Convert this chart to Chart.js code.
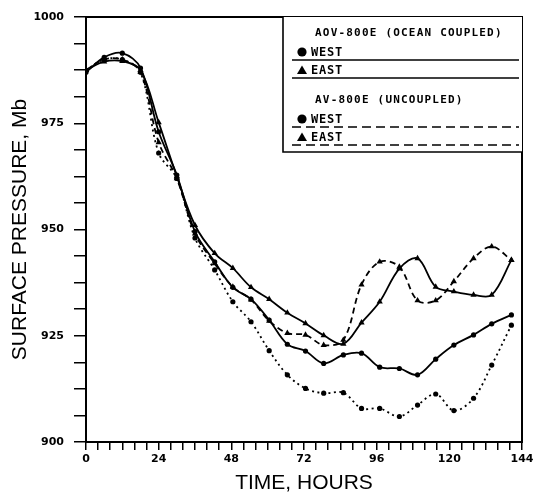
<!DOCTYPE html>
<html>
<head>
<meta charset="utf-8">
<script src="https://cdn.jsdelivr.net/npm/chart.js@4"></script>
<style>
  html, body { margin: 0; padding: 0; background: #fff; }
  #wrap { width: 537px; height: 496px; }
</style>
</head>
<body>
<div id="wrap"><canvas id="pressureChart" width="537" height="496"></canvas></div>
<script>
// time of each stored value, hours
var hours = [0, 6, 12, 18, 24, 30, 36, 42.5, 48.5, 54.5, 60.5, 66.5, 72.5, 78.5,
             85, 91, 97, 103.5, 109.5, 115.5, 121.5, 128, 134, 140.5];

// surface pressure, Mb
var coupledWest = [987, 990.5, 991.5, 988, 973, 962.8, 949.5, 942.4, 936.4, 933.6, 928.7, 923,
                   921.4, 918.5, 920.5, 920.9, 917.6, 917.3, 915.8, 919.5, 922.8, 925.2, 927.8, 929.9];
var coupledEast = [987.5, 989.5, 989.6, 987.5, 975.2, 962.5, 951, 944.4, 940.9, 936.4, 933.6, 930.4,
                   927.9, 925.1, 923.1, 928.1, 933, 940.8, 943.2, 936.5, 935.4, 934.6, 934.6, 942.8];
var uncoupledWest = [987.5, 990, 990, 987, 968, 962, 948, 940.5, 933, 928.3, 921.5, 915.8,
                     912.6, 911.5, 911.6, 907.9, 907.9, 906, 908.7, 911.3, 907.4, 910.3, 918.1, 927.5];
var uncoupledEast = [987.5, 990, 990, 987, 970.5, 962, 949, 942, 936.5, 933.5, 928.5, 925.6,
                     925.2, 922.8, 924, 937, 942.4, 941.2, 933.3, 933.3, 937.8, 943.2, 946, 942.8];

var xLabelStep = 24;
var yLabelStep = 25;

var legendTitles = ['AOV-800E (OCEAN COUPLED)', 'AV-800E (UNCOUPLED)'];
var legendNames = ['WEST', 'EAST'];

function toPoints(values) {
  return values.map(function (v, i) { return { x: hours[i], y: v }; });
}

function series(values, style, dash) {
  return {
    data: toPoints(values),
    borderColor: '#000',
    backgroundColor: '#000',
    borderWidth: 1.8,
    borderDash: dash,
    pointStyle: style,
    pointRadius: style === 'triangle' ? 3.6 : 2.6,
    pointBorderWidth: 0,
    tension: 0.35,
    fill: false
  };
}

// frame round the plot and the boxed key in the top right corner
var framePlugin = {
  id: 'frame',
  afterDraw: function (chart) {
    var ctx = chart.ctx;
    var a = chart.chartArea;
    ctx.save();
    ctx.strokeStyle = '#000';
    ctx.lineWidth = 2;
    ctx.strokeRect(a.left, a.top, a.right - a.left, a.bottom - a.top);

    var left = a.right - 239, top = a.top, bottom = a.top + 135;
    ctx.fillStyle = '#fff';
    ctx.fillRect(left, top, a.right - left, bottom - top);
    ctx.lineWidth = 1.6;
    ctx.beginPath();
    ctx.moveTo(left, top);
    ctx.lineTo(left, bottom);
    ctx.lineTo(a.right, bottom);
    ctx.stroke();

    ctx.fillStyle = '#000';
    ctx.textBaseline = 'middle';
    ctx.textAlign = 'left';
    var lineL = left + 9, lineR = a.right - 3;
    var groups = [
      { title: legendTitles[0], y: top + 16, dash: [] },
      { title: legendTitles[1], y: top + 83, dash: [9, 5] }
    ];
    groups.forEach(function (g) {
      ctx.font = 'bold 11px "DejaVu Sans Mono"';
      ctx.letterSpacing = '1.2px';
      ctx.fillText(g.title, left + 32, g.y);
      legendNames.forEach(function (name, k) {
        var y = g.y + 19 + k * 18;
        var mx = left + 19;
        ctx.beginPath();
        if (k === 0) {
          ctx.arc(mx, y, 4.6, 0, Math.PI * 2);
        } else {
          ctx.moveTo(mx, y - 4.5);
          ctx.lineTo(mx + 5, y + 4);
          ctx.lineTo(mx - 5, y + 4);
          ctx.closePath();
        }
        ctx.fill();
        ctx.font = 'bold 12px "DejaVu Sans Mono"';
        ctx.letterSpacing = '0.8px';
        ctx.fillText(name, left + 28, y + 0.5);
        ctx.setLineDash(g.dash);
        ctx.lineWidth = 1.6;
        ctx.beginPath();
        ctx.moveTo(lineL, y + 8);
        ctx.lineTo(lineR, y + 8);
        ctx.stroke();
        ctx.setLineDash([]);
      });
    });
    ctx.letterSpacing = '0px';
    ctx.restore();
  }
};

var ctx = document.getElementById('pressureChart');
var pressureChart = new Chart(ctx, {
  type: 'line',
  data: {
    datasets: [
      series(coupledWest, 'circle', []),
      series(coupledEast, 'triangle', []),
      series(uncoupledWest, 'circle', [2, 3.5]),
      series(uncoupledEast, 'triangle', [6, 4])
    ]
  },
  options: {
    responsive: false,
    animation: false,
    layout: { padding: { top: 17, right: 15, left: 0, bottom: 0 } },
    plugins: { legend: { display: false }, tooltip: { enabled: false } },
    scales: {
      x: {
        type: 'linear',
        min: 0,
        max: 144,
        afterFit: function (scale) { scale.height = 54; },
        grid: { drawOnChartArea: false, drawTicks: true, tickLength: 8, color: '#000', lineWidth: 1.5 },
        border: { display: true, color: '#000', width: 2 },
        ticks: {
          stepSize: 4,
          autoSkip: false,
          maxRotation: 0,
          padding: 3,
          color: '#000',
          font: { family: '"DejaVu Sans"', size: 11, weight: 'bold' },
          callback: function (v) { return v % xLabelStep === 0 ? String(v) : ''; }
        },
        title: {
          display: true,
          text: 'TIME, HOURS',
          color: '#000',
          font: { family: '"Liberation Sans", Arial, sans-serif', size: 21, lineHeight: 1.2 },
          padding: { top: 0, bottom: 0 }
        }
      },
      y: {
        min: 900,
        max: 1000,
        afterFit: function (scale) { scale.width = 86; },
        grid: { drawOnChartArea: false, drawTicks: true, tickLength: 12, color: '#000', lineWidth: 1.5 },
        border: { display: true, color: '#000', width: 2 },
        ticks: {
          stepSize: 6.25,
          autoSkip: false,
          padding: 10,
          color: '#000',
          font: { family: '"DejaVu Sans"', size: 11, weight: 'bold' },
          callback: function (v) { return v % yLabelStep === 0 ? String(v) : ''; }
        },
        title: {
          display: true,
          text: 'SURFACE PRESSURE, Mb',
          color: '#000',
          font: { family: '"Liberation Sans", Arial, sans-serif', size: 21, lineHeight: 1.2 },
          padding: { top: 8, bottom: 0 }
        }
      }
    }
  },
  plugins: [framePlugin]
});
</script>
</body>
</html>
